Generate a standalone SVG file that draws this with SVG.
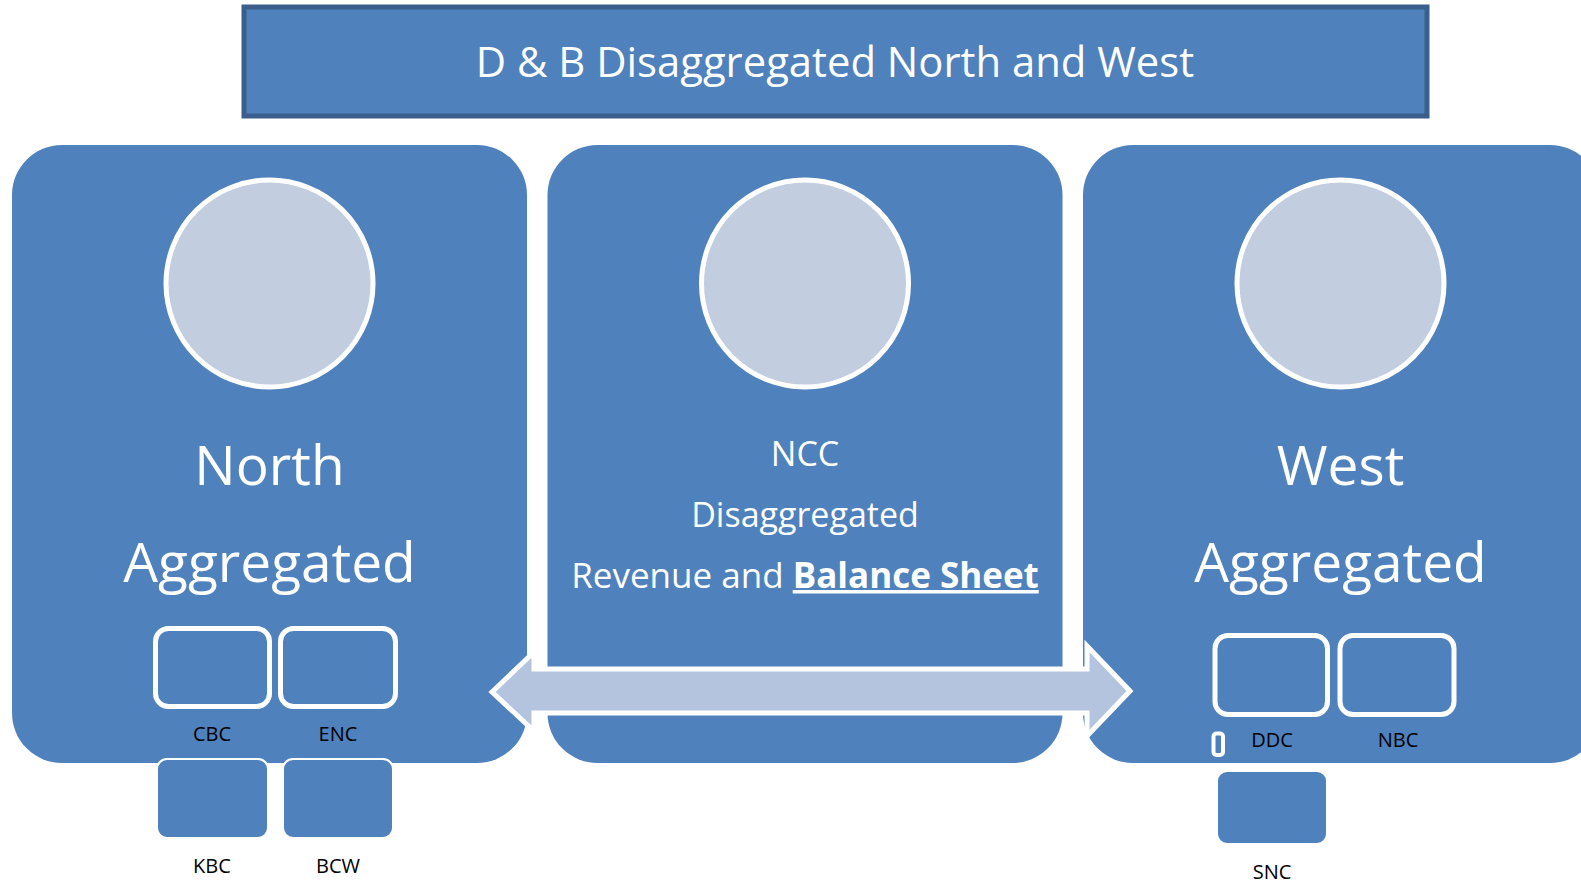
<svg xmlns="http://www.w3.org/2000/svg" width="1581" height="884" viewBox="0 0 1581 884">
<style>
.panel{fill:#4f81bd}
.disc{fill:#c3cde0;stroke:#ffffff;stroke-width:5}
.slot{fill:#4f81bd;stroke:#ffffff;stroke-width:5}
.sub{fill:#4f81bd;stroke:#ffffff;stroke-width:2}
.big{font-family:"Open Sans","Liberation Sans",sans-serif;fill:#ffffff;text-anchor:middle}
.lbl{font-family:"Open Sans","Liberation Sans",sans-serif;fill:#000000;font-size:20px;text-anchor:middle}
</style>
<rect width="1581" height="884" fill="#ffffff"/>
<g id="title">
<rect x="244" y="7" width="1183" height="109" fill="#4f81bd" stroke="#3a5f8d" stroke-width="5"/>
<text class="big" x="835" y="77" font-size="41.8">D &amp; B Disaggregated North and West</text>
</g>
<g id="north">
<rect class="panel" x="12" y="145" width="515" height="618" rx="50"/>
<circle class="disc" cx="269.5" cy="283.5" r="103.5"/>
<text class="big" x="269.5" y="485" font-size="55">North</text>
<text class="big" x="269.5" y="582" font-size="55">Aggregated</text>
</g>
<g id="ncc">
<rect class="panel" x="547.5" y="145" width="515" height="618" rx="50"/>
<circle class="disc" cx="805" cy="283.5" r="103.5"/>
<text class="big" x="805" y="466" font-size="34">NCC</text>
<text class="big" x="805" y="527" font-size="34">Disaggregated</text>
<text class="big" x="805" y="588" font-size="35">Revenue and <tspan font-weight="bold" text-decoration="underline">Balance Sheet</tspan></text>
</g>
<g id="west">
<rect class="panel" x="1083" y="145" width="517" height="618" rx="50"/>
<circle class="disc" cx="1340.5" cy="283.5" r="103.5"/>
<text class="big" x="1340.5" y="485" font-size="55">West</text>
<text class="big" x="1340.5" y="582" font-size="55">Aggregated</text>
</g>
<g id="cbc">
<rect class="slot" x="155.5" y="628.5" width="114" height="78" rx="13"/>
<text class="lbl" x="212" y="741">CBC</text>
</g>
<g id="enc">
<rect class="slot" x="280.5" y="628.5" width="115" height="78" rx="13"/>
<text class="lbl" x="338" y="741">ENC</text>
</g>
<g id="kbc">
<rect class="sub" x="157" y="759" width="111" height="79" rx="10"/>
<text class="lbl" x="212" y="873">KBC</text>
</g>
<g id="bcw">
<rect class="sub" x="283" y="759" width="110" height="79" rx="10"/>
<text class="lbl" x="338" y="873">BCW</text>
</g>
<g id="ddc">
<rect class="slot" x="1215" y="635.5" width="112.5" height="79" rx="13"/>
<text class="lbl" x="1272" y="747">DDC</text>
</g>
<g id="nbc">
<rect class="slot" x="1340" y="635.5" width="114" height="79" rx="13"/>
<text class="lbl" x="1398" y="747">NBC</text>
</g>
<g id="blank">
<rect x="1213.5" y="733.5" width="9.5" height="21.5" rx="3" fill="#4f81bd" stroke="#ffffff" stroke-width="4"/>
</g>
<g id="snc">
<rect class="sub" x="1217" y="771" width="110" height="73" rx="10"/>
<text class="lbl" x="1272" y="879">SNC</text>
</g>
<g id="connectors">
<path d="M492,692 L534,652 L534,669 L1087,669 L1087,646 L1130,691 L1087,736 L1087,713 L534,713 L534,731 Z" fill="#b4c3de" stroke="#ffffff" stroke-width="5" stroke-linejoin="miter"/>
</g>
</svg>
